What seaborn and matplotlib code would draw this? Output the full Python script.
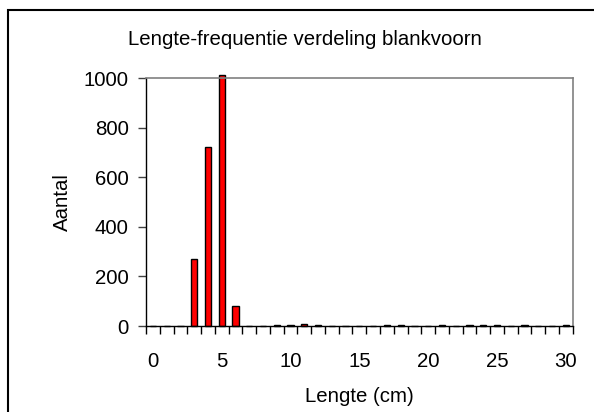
import matplotlib
matplotlib.use("Agg")
import matplotlib.pyplot as plt
import seaborn as sns
import pandas as pd
from matplotlib.patches import Rectangle

# ---- data ----
lengths = list(range(0, 31))
counts = [0, 0, 0, 269, 722, 1012, 82, 0, 0, 3, 4, 10, 4, 0, 0, 0,
          0, 3, 4, 0, 0, 3, 0, 3, 4, 4, 0, 3, 0, 0, 4]
x_tick_labels = ["0", "5", "10", "15", "20", "25", "30"]
y_ticks = [0, 200, 400, 600, 800, 1000]
title = "Lengte-frequentie verdeling blankvoorn"
x_label = "Lengte (cm)"
y_label = "Aantal"

df = pd.DataFrame({"lengte": lengths, "aantal": counts})

sns.set_style("white")
plt.rcParams["font.family"] = ["Liberation Sans", "DejaVu Sans"]
plt.rcParams["text.color"] = "black"
plt.rcParams["axes.labelcolor"] = "black"
plt.rcParams["xtick.color"] = "black"
plt.rcParams["ytick.color"] = "black"
FS = 14.7

W, H = 594, 412
fig = plt.figure(figsize=(W / 100, H / 100), dpi=100)
ax_l, ax_r, ax_t, ax_b = 146, 572.7, 78.3, 326
ax = fig.add_axes([ax_l / W, 1 - ax_b / H, (ax_r - ax_l) / W, (ax_b - ax_t) / H])

sns.barplot(data=df, x="lengte", y="aantal", order=lengths, color="#FF0000",
            saturation=1, width=0.45, edgecolor="black", linewidth=1.0, ax=ax,
            errorbar=None)
for p in ax.patches:
    p.set_clip_on(False)

ax.set_xlim(-0.5, len(lengths) - 0.5)
ax.set_ylim(0, 1000)

# x: labels at category centres, tick marks between categories
ax.set_xticks([lengths.index(int(t)) for t in x_tick_labels])
ax.set_xticklabels(x_tick_labels, fontsize=FS, color="black")
ax.set_xticks([i - 0.5 for i in range(len(lengths) + 1)], minor=True)
ax.tick_params(axis="x", which="major", length=0, pad=18.5, labelcolor="black")
ax.tick_params(axis="x", which="minor", length=6, width=1, color="black",
               direction="out", bottom=True)

ax.set_yticks(y_ticks)
ax.set_yticklabels([str(v) for v in y_ticks], fontsize=FS, color="black")
ax.tick_params(axis="y", length=6, width=1, color="#404040", direction="out",
               left=True, pad=6.5, labelcolor="black")

for s in ["left", "bottom"]:
    ax.spines[s].set_color("black")
    ax.spines[s].set_linewidth(1.0)
for s in ["top", "right"]:
    ax.spines[s].set_color("#808080")
    ax.spines[s].set_linewidth(1.2)
    ax.spines[s].set_visible(True)

ax.set_xlabel(x_label, fontsize=FS, color="black")
ax.set_ylabel(y_label, fontsize=FS, color="black")
ax.xaxis.set_label_coords(0.5, -0.245)
ax.yaxis.set_label_coords(-0.173, 0.5)
ax.grid(False)

fig.text(304.5 / W, 1 - 44.7 / H, title, fontsize=FS, ha="center", va="baseline",
         color="black")

fig.patches.append(Rectangle((8 / W, -0.1), 1.2, 1.1 - 10 / H, transform=fig.transFigure,
                             fill=False, edgecolor="black", linewidth=1.5))

fig.savefig("out.png", dpi=100)
